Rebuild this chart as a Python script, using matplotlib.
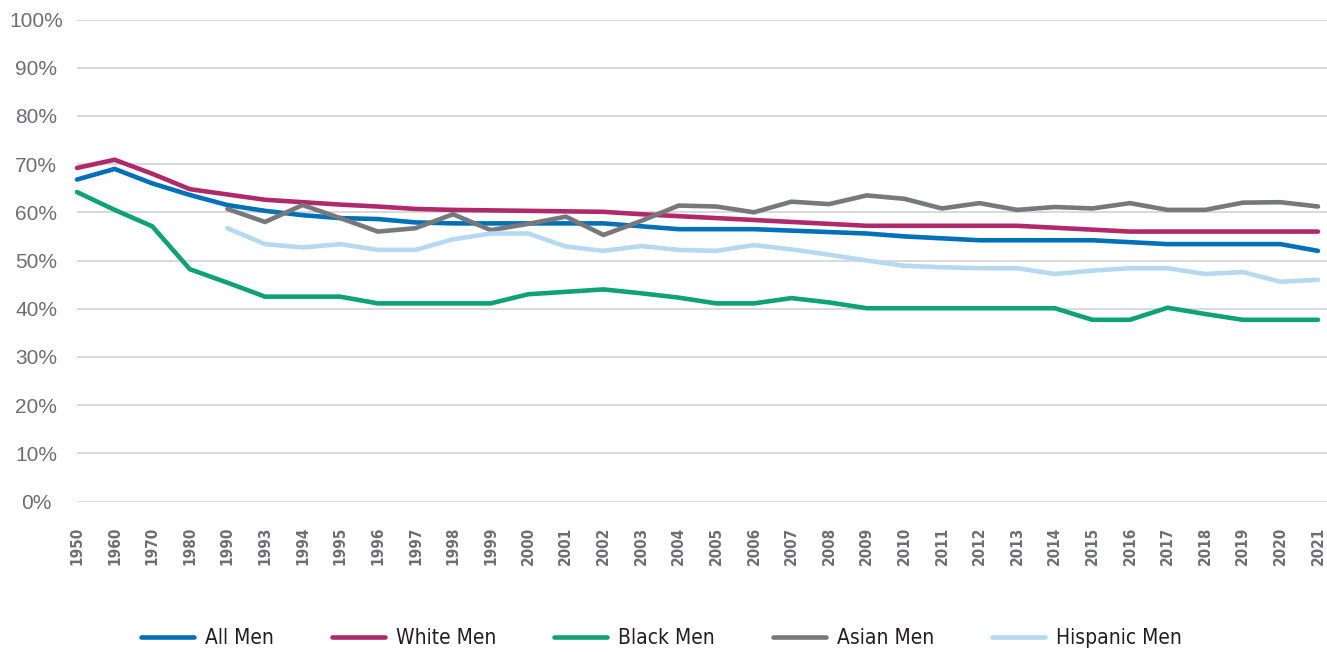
import matplotlib
matplotlib.use("Agg")
import matplotlib.pyplot as plt
from matplotlib.ticker import FuncFormatter

years = ["1950", "1960", "1970", "1980", "1990", "1993", "1994", "1995", "1996",
         "1997", "1998", "1999", "2000", "2001", "2002", "2003", "2004", "2005",
         "2006", "2007", "2008", "2009", "2010", "2011", "2012", "2013", "2014",
         "2015", "2016", "2017", "2018", "2019", "2020", "2021"]

all_men = [66.8, 69.0, 66.0, 63.6, 61.5, 60.3, 59.4, 58.8, 58.6, 57.9, 57.7, 57.7,
           57.7, 57.7, 57.7, 57.1, 56.5, 56.5, 56.5, 56.2, 55.9, 55.6, 55.0, 54.6,
           54.2, 54.2, 54.2, 54.2, 53.8, 53.4, 53.4, 53.4, 53.4, 52.0]

white_men = [69.2, 70.9, 68.0, 64.8, 63.7, 62.6, 62.1, 61.6, 61.2, 60.7, 60.5, 60.4,
             60.3, 60.2, 60.1, 59.6, 59.2, 58.8, 58.4, 58.0, 57.6, 57.2, 57.2, 57.2,
             57.2, 57.2, 56.8, 56.4, 56.0, 56.0, 56.0, 56.0, 56.0, 56.0]

black_men = [64.2, 60.5, 57.1, 48.2, 45.4, 42.5, 42.5, 42.5, 41.1, 41.1, 41.1, 41.1,
             43.0, 43.5, 44.0, 43.2, 42.3, 41.1, 41.1, 42.2, 41.3, 40.1, 40.1, 40.1,
             40.1, 40.1, 40.1, 37.7, 37.7, 40.2, 38.9, 37.7, 37.7, 37.7]

asian_men = [None, None, None, None, 60.7, 58.0, 61.5, 58.8, 56.0, 56.7, 59.6, 56.3,
             57.6, 59.1, 55.3, 58.2, 61.4, 61.2, 60.0, 62.2, 61.7, 63.5, 62.8, 60.8,
             61.9, 60.5, 61.1, 60.8, 61.9, 60.5, 60.5, 62.0, 62.1, 61.2]

hispanic_men = [None, None, None, None, 56.7, 53.4, 52.7, 53.4, 52.2, 52.2, 54.4, 55.6,
                55.6, 52.9, 52.0, 53.0, 52.2, 52.0, 53.2, 52.3, 51.2, 50.0, 48.9, 48.6,
                48.4, 48.4, 47.2, 47.9, 48.4, 48.4, 47.2, 47.6, 45.6, 46.0]

series = [
    ("All Men", all_men, "#0070b8"),
    ("White Men", white_men, "#b0296a"),
    ("Black Men", black_men, "#0fa274"),
    ("Asian Men", asian_men, "#77787b"),
    ("Hispanic Men", hispanic_men, "#b4d9f1"),
]

# condensed DejaVu for the year labels and legend
plt.rcParams["font.family"] = ["DejaVu Sans"]
plt.rcParams["font.stretch"] = "condensed"

fig = plt.figure(figsize=(13.27, 6.52), dpi=100)
ax = fig.add_axes([77 / 1327, 1 - 501.5 / 652, 1 - 77 / 1327, 482 / 652])

x = list(range(len(years)))
for name, vals, color in series:
    xs = [i for i, v in zip(x, vals) if v is not None]
    ys = [v for v in vals if v is not None]
    ax.plot(xs, ys, color=color, lw=3.3, label=name, solid_capstyle="round",
            solid_joinstyle="miter", clip_on=False)

ax.set_ylim(0, 100)
ax.set_xlim(0, 33.24)
ax.set_yticks(range(0, 101, 10))
ax.yaxis.set_major_formatter(FuncFormatter(lambda v, _: f"{int(v)}%"))
ax.set_xticks(x)
ax.set_xticklabels(years, rotation=90, fontsize=11, fontweight="bold",
                   color="#6d6e71")
for lab in ax.get_yticklabels():
    lab.set_fontsize(15)
    lab.set_color("#6d6e71")
    lab.set_family(["Liberation Sans", "DejaVu Sans"])
    lab.set_fontstretch("normal")
    lab.set_horizontalalignment("center")
ax.tick_params(axis="both", length=0)
ax.tick_params(axis="y", pad=29.5)
ax.tick_params(axis="x", pad=18)

ax.grid(axis="y", color="#d9d9d9", lw=1.4)
ax.set_axisbelow(True)
for s in ax.spines.values():
    s.set_visible(False)

leg = fig.legend(loc="center", bbox_to_anchor=(0.4985, 0.021), ncol=5, frameon=False,
                 fontsize=15, handlelength=2.55, columnspacing=2.75, handletextpad=0.55)
for t in leg.get_texts():
    t.set_color("#231f20")

fig.savefig("out.png", dpi=100)
